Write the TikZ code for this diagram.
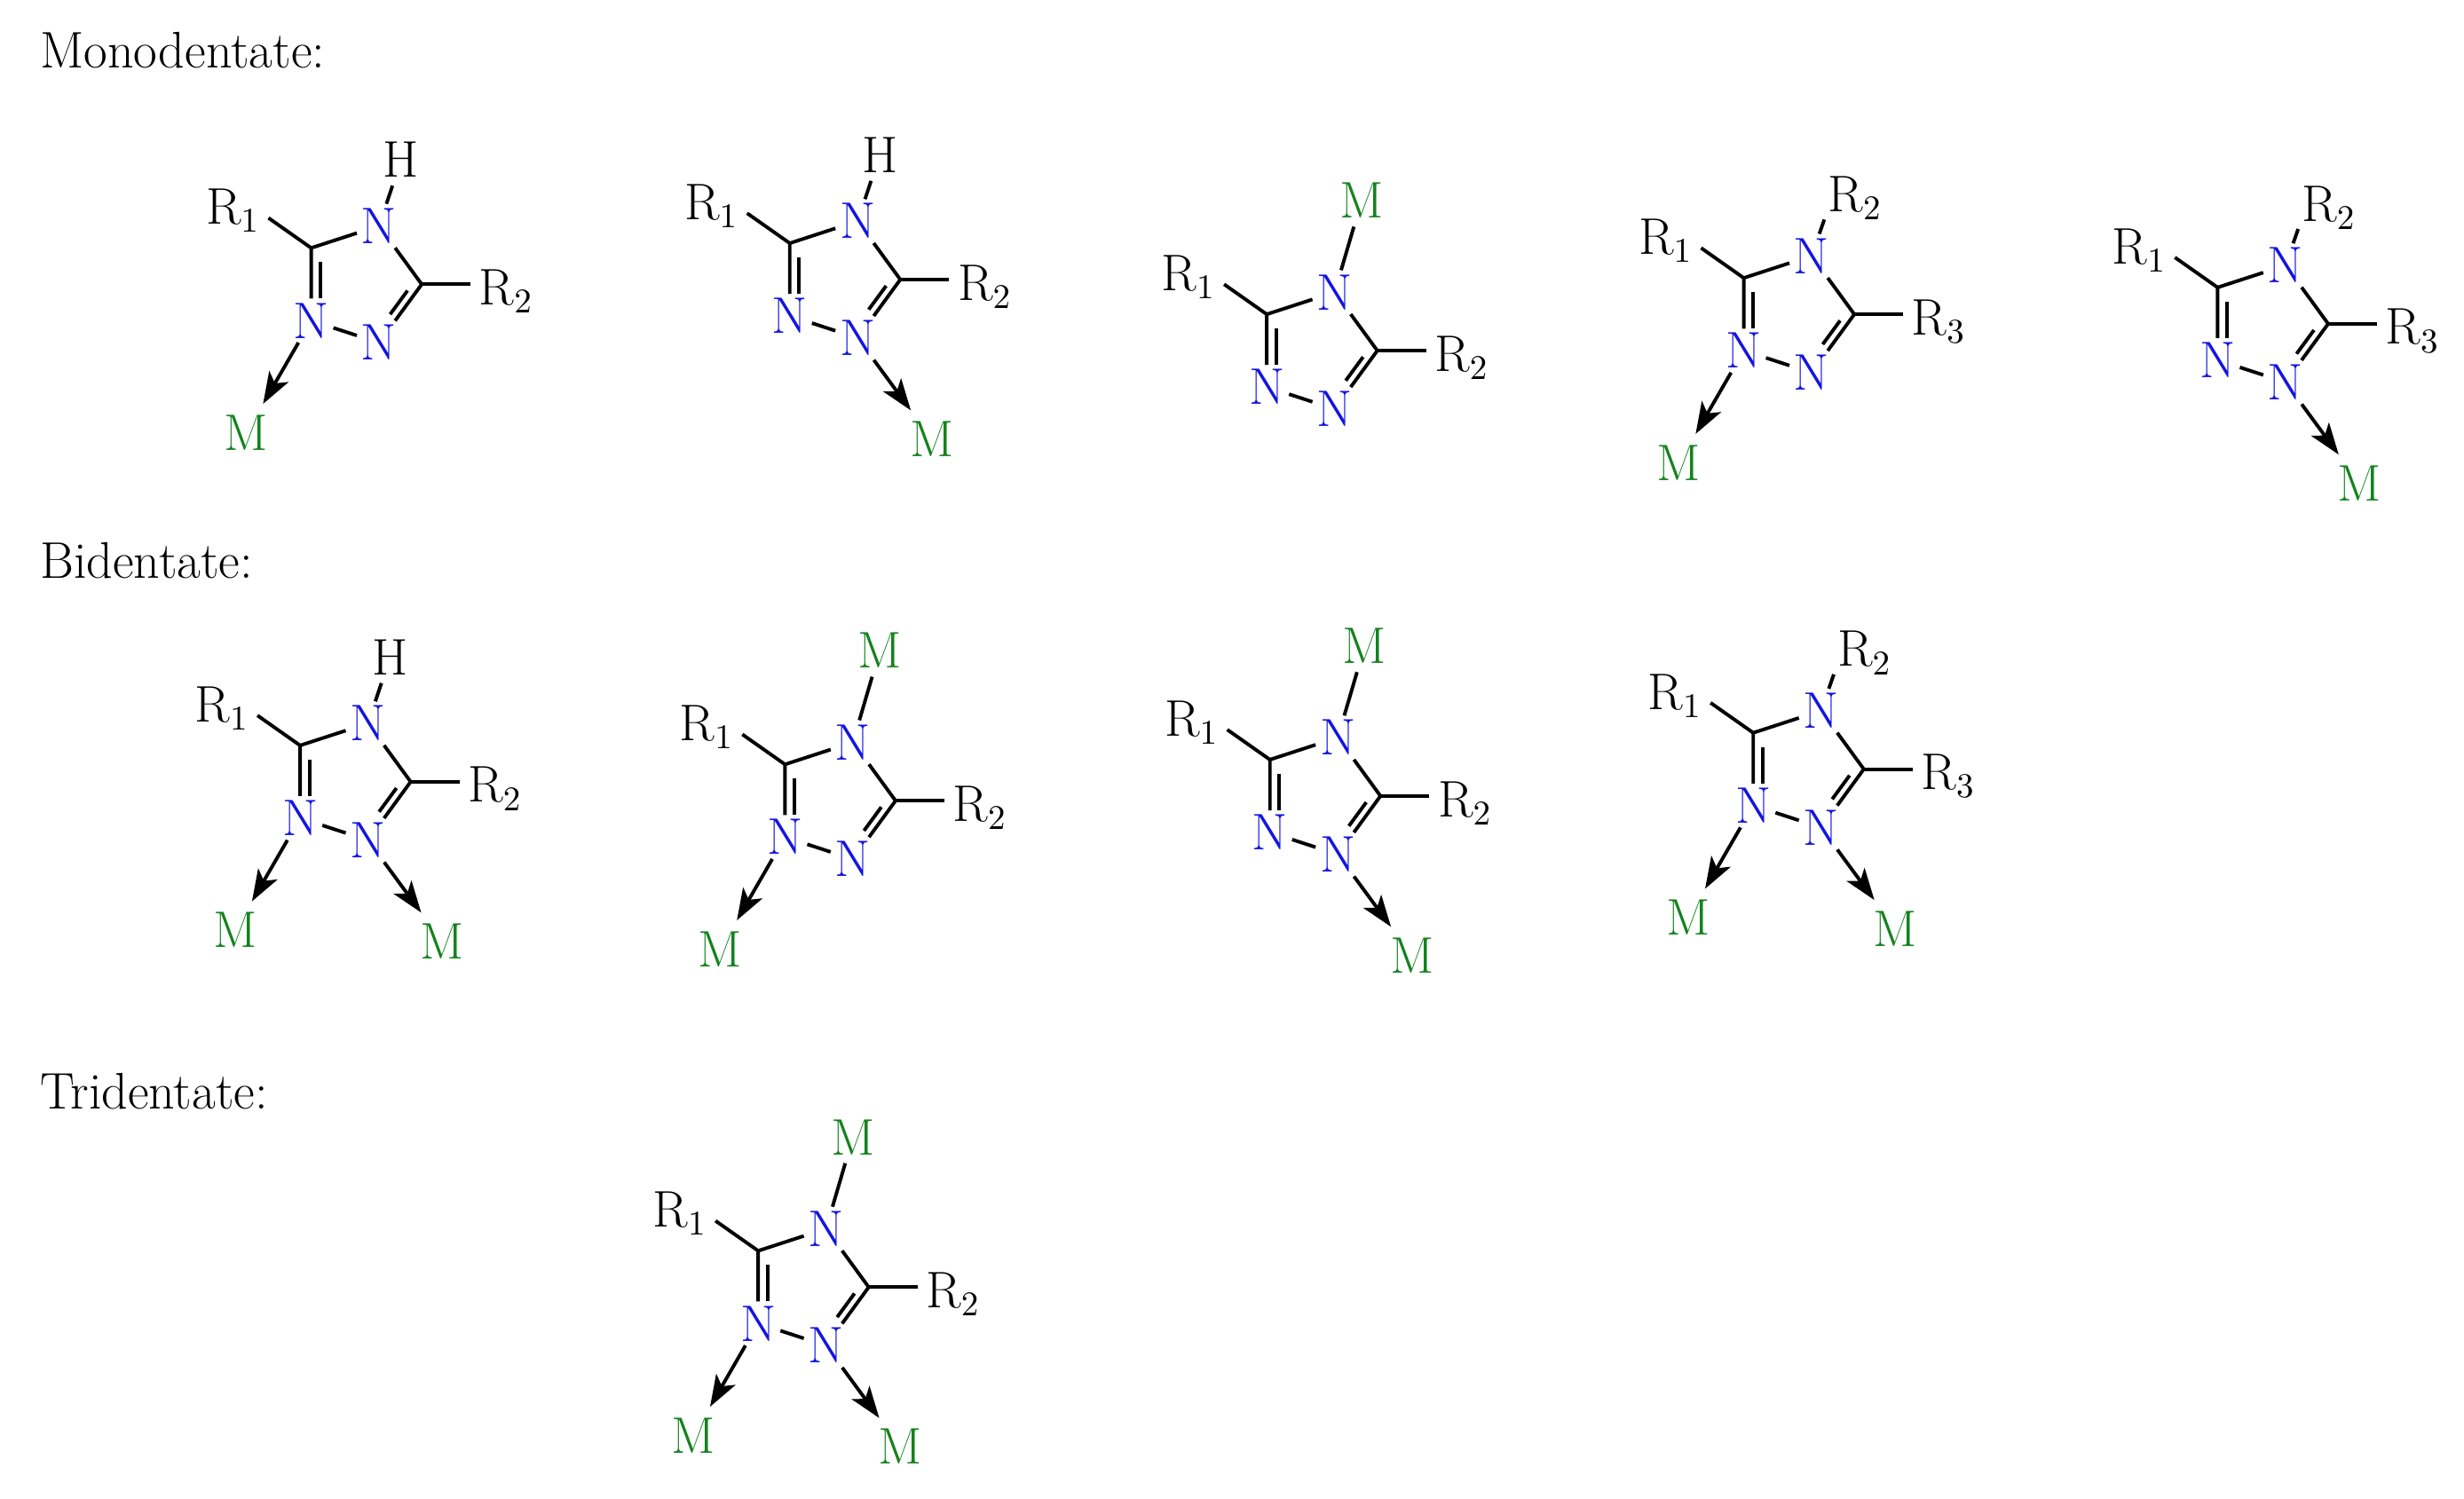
\documentclass[tikz,border=0pt]{standalone}
\usetikzlibrary{arrows.meta}
\definecolor{nblue}{RGB}{20,20,225}
\definecolor{mgreen}{RGB}{20,130,30}
\tikzset{
 bond/.style={line width=1.1pt, line cap=butt},
 natom/.style={text=nblue, inner sep=1.2pt},
 metal/.style={text=mgreen, inner sep=2.5pt},
 lab/.style={inner sep=0pt},
 subst/.style={inner sep=2.5pt},
 dative/.style={line width=1.1pt, -{Stealth[length=10pt,width=7pt,inset=2.5pt]}, shorten >=1pt},
 heading/.style={inner sep=0pt, anchor=base west}
}
\newcommand\tzRing[1]{%
 \node[natom] (#1N4) at (0,0) {N};
 \coordinate (#1C5) at (-43,14);
 \node[natom] (#1N1) at (-43,60) {N};
 \node[natom] (#1N2) at (0,74) {N};
 \coordinate (#1C3) at (27,37);
 \draw[bond,line join=round] (#1N4) -- (#1C5) -- (#1N1);
 \draw[bond] (#1N1) -- (#1N2);
 \draw[bond,line join=round] (#1N2) -- (#1C3) -- (#1N4);
 \draw[bond] (-37,23) -- (-37,46);
 \draw[bond] (18,41) -- (7,56);}
\newcommand\tzRleft[1]{%
 \node[lab,anchor=base west] (#1R1) at (-110,-1) {R$_1$};
 \coordinate (#1b1) at (-70,-5);
 \draw[bond] (#1C5) -- (#1b1);}
\newcommand\tzRright[2]{%
 \node[lab,anchor=base west] (#1Rr) at (63,50) {R$_#2$};
 \coordinate (#1br) at (58,37);
 \draw[bond] (#1C3) -- (#1br);}
\newcommand\tzHtop[1]{%
 \node[subst] (#1H) at (14,-42) {H};
 \draw[bond] (#1N4) -- (#1H);}
\newcommand\tzRtop[1]{%
 \node[subst,anchor=base west] (#1Rt) at (5,-28) {R$_2$};
 \coordinate (#1bt) at (8,-23);
 \draw[bond] (#1N4) -- (#1bt);}
\newcommand\tzMtop[1]{%
 \node[metal] (#1Mt) at (17,-58) {M};
 \draw[bond] (#1N4) -- (#1Mt);}
\newcommand\tzMleft[1]{%
 \node[metal] (#1Ml) at (-84,131) {M};
 \draw[dative] (#1N1) -- (#1Ml);}
\newcommand\tzMright[1]{%
 \node[metal] (#1Mr) at (47,138) {M};
 \draw[dative] (#1N2) -- (#1Mr);}
\begin{document}
\begin{tikzpicture}[x=0.5pt,y=-0.5pt,font=\fontsize{16.3}{19}\selectfont]
\useasboundingbox (0,0) rectangle (1560,949);
\node[heading] (hm) at (25,43) {Monodentate:};
\node[heading] (hb) at (25,366) {Bidentate:};
\node[heading] (ht) at (25,702) {Tridentate:};
% row 1
\begin{scope}[shift={(240,143)}]\tzRing{a}\tzHtop{a}\tzRleft{a}\tzRright{a}{2}\tzMleft{a}\end{scope}
\begin{scope}[shift={(543,140)}]\tzRing{b}\tzHtop{b}\tzRleft{b}\tzRright{b}{2}\tzMright{b}\end{scope}
\begin{scope}[shift={(845,185)}]\tzRing{c}\tzMtop{c}\tzRleft{c}\tzRright{c}{2}\end{scope}
\begin{scope}[shift={(1147,162)}]\tzRing{d}\tzRtop{d}\tzRleft{d}\tzRright{d}{3}\tzMleft{d}\end{scope}
\begin{scope}[shift={(1447,168)}]\tzRing{e}\tzRtop{e}\tzRleft{e}\tzRright{e}{3}\tzMright{e}\end{scope}
% row 2
\begin{scope}[shift={(233,458)}]\tzRing{f}\tzHtop{f}\tzRleft{f}\tzRright{f}{2}\tzMleft{f}\tzMright{f}\end{scope}
\begin{scope}[shift={(540,470)}]\tzRing{g}\tzMtop{g}\tzRleft{g}\tzRright{g}{2}\tzMleft{g}\end{scope}
\begin{scope}[shift={(847,467)}]\tzRing{h}\tzMtop{h}\tzRleft{h}\tzRright{h}{2}\tzMright{h}\end{scope}
\begin{scope}[shift={(1153,450)}]\tzRing{i}\tzRtop{i}\tzRleft{i}\tzRright{i}{3}\tzMleft{i}\tzMright{i}\end{scope}
% row 3
\begin{scope}[shift={(523,778)}]\tzRing{j}\tzMtop{j}\tzRleft{j}\tzRright{j}{2}\tzMleft{j}\tzMright{j}\end{scope}
\end{tikzpicture}
\end{document}
